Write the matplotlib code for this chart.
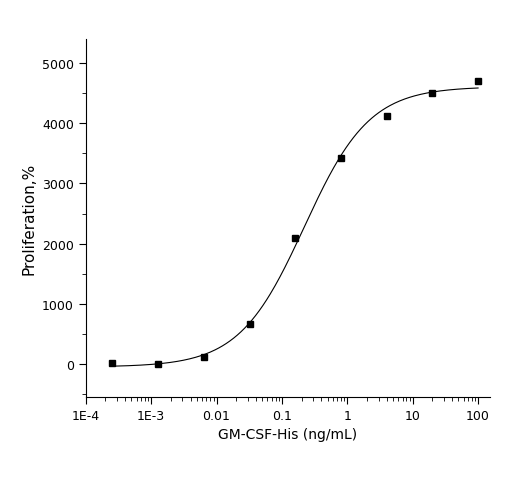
import numpy as np
import matplotlib
matplotlib.use("Agg")
import matplotlib.pyplot as plt
from matplotlib.ticker import LogLocator, FixedLocator, MultipleLocator

conc = [100, 20, 4, 0.8, 0.16, 0.032, 0.0064, 0.00128, 0.000256]
prolif = [4700, 4500, 4130, 3430, 2100, 660, 110, 0, 10]
xtick_vals = [1e-4, 1e-3, 0.01, 0.1, 1, 10, 100]
xtick_labels = ["1E-4", "1E-3", "0.01", "0.1", "1", "10", "100"]
fit_bottom, fit_top, fit_ec50, fit_hill = -50, 4610, 0.22, 0.87

fig = plt.figure(figsize=(5.2, 4.89), dpi=100)
ax = fig.add_axes([0.165, 0.186, 0.777, 0.732])
xs = np.logspace(np.log10(min(conc)), np.log10(max(conc)), 300)
ys = fit_bottom + (fit_top - fit_bottom) / (1 + (fit_ec50 / xs) ** fit_hill)
ax.plot(xs, ys, color="black", lw=0.8)
ax.plot(conc, prolif, "s", color="black", ms=5)
ax.set_xscale("log")
ax.set_xlim(1e-4, 10 ** 2.18)
ax.set_ylim(-550, 5400)
ax.set_xticks(xtick_vals)
ax.set_xticklabels(xtick_labels)
ax.xaxis.set_minor_locator(LogLocator(base=10, subs=np.arange(2, 10)))
ax.xaxis.set_minor_formatter(plt.NullFormatter())
ax.yaxis.set_major_locator(FixedLocator([0, 1000, 2000, 3000, 4000, 5000]))
ax.yaxis.set_minor_locator(MultipleLocator(500))
for s in ["top", "right"]:
    ax.spines[s].set_visible(False)
ax.tick_params(which="both", direction="out", labelsize=9)
ax.tick_params(which="major", length=5)
ax.tick_params(which="minor", length=3)
ax.set_xlabel("GM-CSF-His (ng/mL)", fontsize=10)
ax.set_ylabel("Proliferation,%", fontsize=11)
fig.savefig("out.png", dpi=100)
